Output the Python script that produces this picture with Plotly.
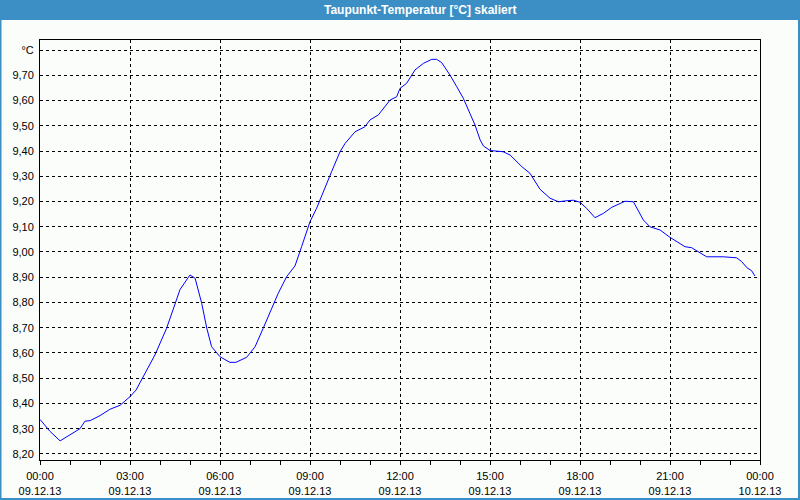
import plotly.graph_objects as go

# Data: hours since 09.12.13 00:00 and dew point temperature (°C)
hours = [0.0, 0.33, 0.67, 1.0, 1.33, 1.5, 1.67, 2.0, 2.33, 2.67, 3.0, 3.2, 3.5, 3.83,
         4.22, 4.67, 5.0, 5.17, 5.39, 5.56, 5.72, 6.0, 6.33, 6.53, 6.89, 7.17, 7.44,
         7.94, 8.22, 8.5, 8.72, 9.0, 9.22, 9.44, 9.72, 10.0, 10.17, 10.5, 10.83, 11.0,
         11.28, 11.67, 11.89, 12.0, 12.22, 12.5, 12.78, 13.06, 13.22, 13.39, 13.67,
         13.89, 14.11, 14.33, 14.5, 14.67, 14.78, 15.0, 15.44, 15.67, 16.06, 16.33,
         16.5, 16.67, 17.0, 17.28, 17.56, 17.78, 18.0, 18.22, 18.5, 18.78, 19.06, 19.5,
         19.78, 19.94, 20.11, 20.33, 20.67, 21.0, 21.5, 21.72, 22.0, 22.22, 22.78,
         23.22, 23.39, 23.56, 23.72, 23.83]
temps = [8.337, 8.29, 8.252, 8.275, 8.30, 8.33, 8.332, 8.352, 8.377, 8.393, 8.427, 8.453,
         8.52, 8.592, 8.698, 8.852, 8.909, 8.896, 8.797, 8.698, 8.625, 8.585, 8.563,
         8.563, 8.583, 8.625, 8.698, 8.836, 8.902, 8.945, 9.021, 9.12, 9.173, 9.239,
         9.318, 9.397, 9.43, 9.476, 9.496, 9.523, 9.543, 9.602, 9.615, 9.648, 9.668,
         9.721, 9.747, 9.763, 9.763, 9.75, 9.70, 9.655, 9.609, 9.549, 9.503, 9.444,
         9.42, 9.402, 9.397, 9.384, 9.338, 9.312, 9.278, 9.248, 9.213, 9.199, 9.203,
         9.205, 9.197, 9.173, 9.136, 9.153, 9.177, 9.201, 9.199, 9.166, 9.127, 9.10,
         9.087, 9.058, 9.021, 9.017, 8.995, 8.981, 8.981, 8.977, 8.962, 8.938, 8.926,
         8.905]

x_tick_hours = [0, 3, 6, 9, 12, 15, 18, 21, 24]
x_tick_times = ["00:00", "03:00", "06:00", "09:00", "12:00", "15:00", "18:00", "21:00", "00:00"]
x_tick_dates = ["09.12.13"] * 8 + ["10.12.13"]

y_tick_vals = [8.2, 8.3, 8.4, 8.5, 8.6, 8.7, 8.8, 8.9, 9.0, 9.1, 9.2, 9.3, 9.4, 9.5, 9.6, 9.7, 9.8]
y_tick_text = ["8,20", "8,30", "8,40", "8,50", "8,60", "8,70", "8,80", "8,90", "9,00",
               "9,10", "9,20", "9,30", "9,40", "9,50", "9,60", "9,70", "°C"]

title = "Taupunkt-Temperatur [°C] skaliert"

W, H = 800, 500
ML, MR, MT, MB = 40, 40, 40, 40
PW, PH = W - ML - MR, H - MT - MB

def px_x(p):
    return (p - ML) / PW

def px_y(p):
    return (H - MB - p) / PH

BLUE = "#3c8fc4"
BG = "#fbfdfb"

fig = go.Figure()
fig.add_trace(go.Scatter(x=hours, y=temps, mode="lines",
                         line=dict(color="#0000ff", width=1), showlegend=False))

shapes = [
    dict(type="rect", xref="paper", yref="paper", x0=px_x(0), x1=px_x(W), y0=px_y(0), y1=px_y(20),
         fillcolor=BLUE, line=dict(width=0)),
    dict(type="line", xref="paper", yref="paper", x0=px_x(0.75), x1=px_x(0.75), y0=px_y(0), y1=px_y(H),
         line=dict(color=BLUE, width=1.5)),
    dict(type="line", xref="paper", yref="paper", x0=px_x(W - 1), x1=px_x(W - 1), y0=px_y(0), y1=px_y(H),
         line=dict(color=BLUE, width=2)),
    dict(type="line", xref="paper", yref="paper", x0=px_x(0), x1=px_x(W), y0=px_y(H - 1), y1=px_y(H - 1),
         line=dict(color=BLUE, width=2)),
]

fig.update_layout(
    width=W, height=H,
    margin=dict(l=ML, r=MR, t=MT, b=MB, pad=0, autoexpand=False),
    paper_bgcolor=BG, plot_bgcolor=BG,
    shapes=shapes,
    annotations=[dict(text="<b>" + title + "</b>", xref="paper", yref="paper",
                      x=px_x(420), y=px_y(10), xanchor="center", yanchor="middle",
                      showarrow=False, font=dict(family="Liberation Sans", size=12, color="white"))],
    font=dict(family="Liberation Sans", size=11, color="#000000"),
)

fig.update_xaxes(
    range=[0, 24], tickmode="array", tickvals=x_tick_hours,
    ticktext=[t + "<br>" + d for t, d in zip(x_tick_times, x_tick_dates)],
    showgrid=True, gridcolor="black", griddash="3px,3px", gridwidth=1,
    showline=True, linecolor="black", linewidth=1, mirror=True,
    ticks="outside", ticklen=4, tickcolor="black", zeroline=False,
    automargin=False, ticklabelstandoff=2,
    minor=dict(tickmode="linear", tick0=0, dtick=1, ticks="outside", ticklen=4,
               tickcolor="black", showgrid=False),
)
fig.update_yaxes(
    range=[8.1762, 9.8396], tickmode="array", tickvals=y_tick_vals, ticktext=y_tick_text,
    showgrid=True, gridcolor="black", griddash="3px,3px", gridwidth=1,
    showline=True, linecolor="black", linewidth=1, mirror=True,
    ticks="", zeroline=False, ticklabelstandoff=3, automargin=False,
)

fig.write_html("out.html")
